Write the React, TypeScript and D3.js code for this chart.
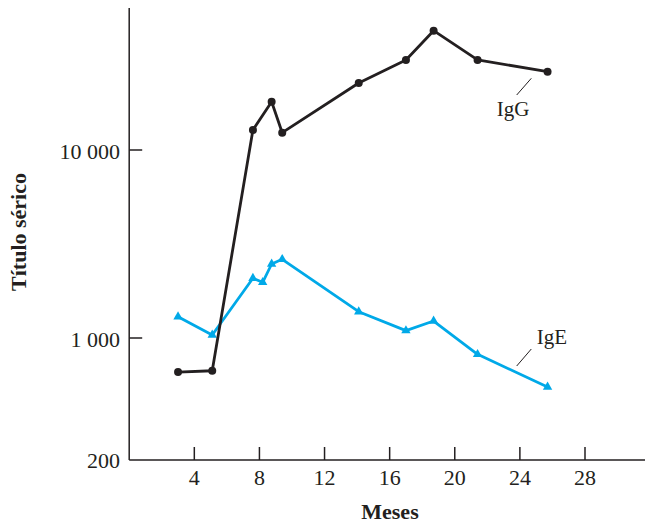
import React from "react";
import * as d3 from "d3";

const months = [3.0, 5.1, 7.6, 8.2, 8.75, 9.4, 14.1, 17.0, 18.7, 21.4, 25.7];
const igG: [number, number][] = [
  [3.0, 638], [5.1, 649], [7.6, 12770], [8.75, 18070], [9.4, 12360],
  [14.1, 22700], [17.0, 30130], [18.7, 43100], [21.4, 30130], [25.7, 26100],
];
const igEValues = [1298, 1037, 2078, 1978, 2475, 2622, 1380, 1094, 1231, 806, 524];
const xTicks = [4, 8, 12, 16, 20, 24, 28];
const yTicks = [200, 1000, 10000];
const yTickLabels = ["200", "1 000", "10 000"];

const W = 645, H = 525;

export default function App() {
  const x = d3.scaleLinear().domain([0, 28]).range([129.2, 585]);
  const y = d3.scaleLog().domain([200, 1000, 10000, 56900]).range([460, 338, 150, 8]);
  const lineGen = d3.line<[number, number]>().x(d => x(d[0])).y(d => y(d[1]));
  const igE: [number, number][] = months.map((m, i) => [m, igEValues[i]]);
  const tri = d3.symbol().type(d3.symbolTriangle).size(38)();
  const black = "#231f20";
  const blue = "#00a9e8";
  const font = "'Liberation Serif', 'Times New Roman', serif";
  return (
    <svg width={W} height={H} style={{ position: "absolute", left: 0, top: 0, background: "#fff" }} fontFamily={font}>
      {/* axes */}
      <line x1={x(0)} x2={W} y1={460} y2={460} stroke={black} strokeWidth={1.5} />
      <line x1={x(0)} x2={x(0)} y1={8} y2={460} stroke={black} strokeWidth={1.5} />
      {xTicks.map(t => (
        <g key={t}>
          <line x1={x(t)} x2={x(t)} y1={460} y2={447} stroke={black} strokeWidth={1.5} />
          <text x={x(t)} y={485} textAnchor="middle" fontSize={22} fill={black}>{t}</text>
        </g>
      ))}
      {yTicks.map((t, i) => (
        <g key={t}>
          {i > 0 && <line x1={x(0)} x2={x(0) + 13} y1={y(t)} y2={y(t)} stroke={black} strokeWidth={1.5} />}
          <text x={120} y={y(t) + (i === 0 ? 8 : 9)} textAnchor="end" fontSize={22} fill={black}>{yTickLabels[i]}</text>
        </g>
      ))}
      <text x={390} y={519} textAnchor="middle" fontSize={22} fontWeight="bold" fill={black}>Meses</text>
      <text transform="translate(26,232) rotate(-90)" textAnchor="middle" fontSize={22} fontWeight="bold" fill={black}>Título sérico</text>

      {/* IgE */}
      <path d={lineGen(igE) || ""} fill="none" stroke={blue} strokeWidth={2.8} strokeLinejoin="round" />
      {igE.map((d, i) => (
        <path key={i} d={tri || ""} transform={`translate(${x(d[0])},${y(d[1])})`} fill={blue} />
      ))}
      {/* IgG */}
      <path d={lineGen(igG) || ""} fill="none" stroke={black} strokeWidth={2.8} strokeLinejoin="round" />
      {igG.map((d, i) => (
        <circle key={i} cx={x(d[0])} cy={y(d[1])} r={4} fill={black} />
      ))}

      {/* labels */}
      <line x1={516.7} y1={95} x2={531.3} y2={78.3} stroke={black} strokeWidth={1} />
      <text x={513} y={116} textAnchor="middle" fontSize={21} fill={black}>IgG</text>
      <line x1={516.7} y1={366} x2={531.3} y2={349} stroke={black} strokeWidth={1} />
      <text x={552} y={344} textAnchor="middle" fontSize={21} fill={black}>IgE</text>
    </svg>
  );
}
